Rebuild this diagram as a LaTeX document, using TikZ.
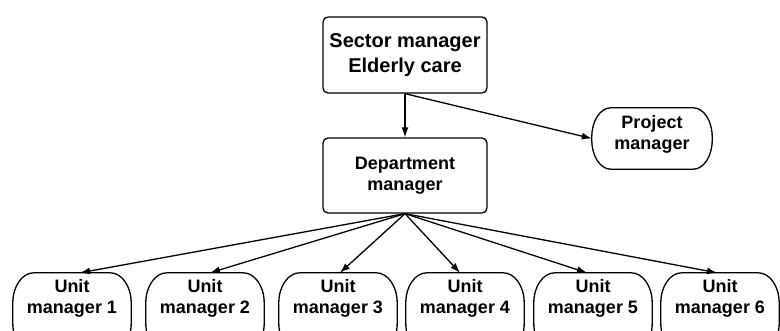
\documentclass[tikz,border=0pt]{standalone}
\usepackage{fontspec}
\setmainfont{Liberation Sans}
\usetikzlibrary{arrows.meta}

% outline with elliptical corners around a named node: #1 name, #2 x radius, #3 y radius
\newcommand\drawoval[3]{%
  \draw[outline] ([xshift=#2]#1.north west) -- ([xshift=-#2]#1.north east)
    arc[start angle=90,end angle=0,x radius=#2,y radius=#3]
    -- ([yshift=#3]#1.south east)
    arc[start angle=0,end angle=-90,x radius=#2,y radius=#3]
    -- ([xshift=#2]#1.south west)
    arc[start angle=270,end angle=180,x radius=#2,y radius=#3]
    -- ([yshift=-#3]#1.north west)
    arc[start angle=180,end angle=90,x radius=#2,y radius=#3]
    -- cycle;}

\begin{document}
\begin{tikzpicture}[x=1pt,y=-1pt,
  outline/.style={line width=1.3pt},
  conn/.style={outline,-{Latex[length=10pt,width=7pt]}},
  mgrbox/.style={draw,outline,rounded corners=5pt,minimum width=164pt,
    minimum height=75pt,inner sep=0pt,align=center},
  ovalarea/.style={minimum width=#1,minimum height=80pt,inner sep=0pt},
  pmarea/.style={minimum width=120pt,minimum height=61pt,inner sep=0pt},
  lbl/.style={inner sep=0pt,align=center,font=\fontsize{18}{21}\selectfont\bfseries},
  biglbl/.style={font=\fontsize{20}{25}\selectfont\bfseries}]

\useasboundingbox (0,0) rectangle (780,331);

% management boxes
\node[mgrbox,biglbl,minimum height=76pt] (sec) at (405,55) {Sector manager\\Elderly care};
\node[mgrbox,lbl,inner sep=0pt] (dep) at (405,175.5) {Department\\manager};

% project manager
\node[pmarea] (pm) at (652,138.5) {};
\node[lbl] (pmt) at (652,134.5) {Project\\manager};
\drawoval{pm}{19pt}{29pt}

% unit managers
\foreach \i/\x in {1/72,2/205,3/338,4/465,5/593,6/720}{
  \node[ovalarea=118pt] (u\i) at (\x,313) {};
  \node[lbl] (u\i t) at (\x,298) {Unit\\manager \i};
  \drawoval{u\i}{21pt}{30pt}
}

% reporting lines
\draw[conn] (sec.south) -- (dep.north);
\draw[conn] (sec.south) -- (pm.west);
\draw[conn] (dep.south) -- ([xshift=8pt]u1.north);
\draw[conn] (dep.south) -- ([xshift=5pt]u2.north);
\draw[conn] (dep.south) -- ([xshift=2pt]u3.north);
\draw[conn] (dep.south) -- ([xshift=-5pt]u4.north);
\draw[conn] (dep.south) -- ([xshift=-6pt]u5.north);
\draw[conn] (dep.south) -- ([xshift=-3pt]u6.north);
\end{tikzpicture}
\end{document}
